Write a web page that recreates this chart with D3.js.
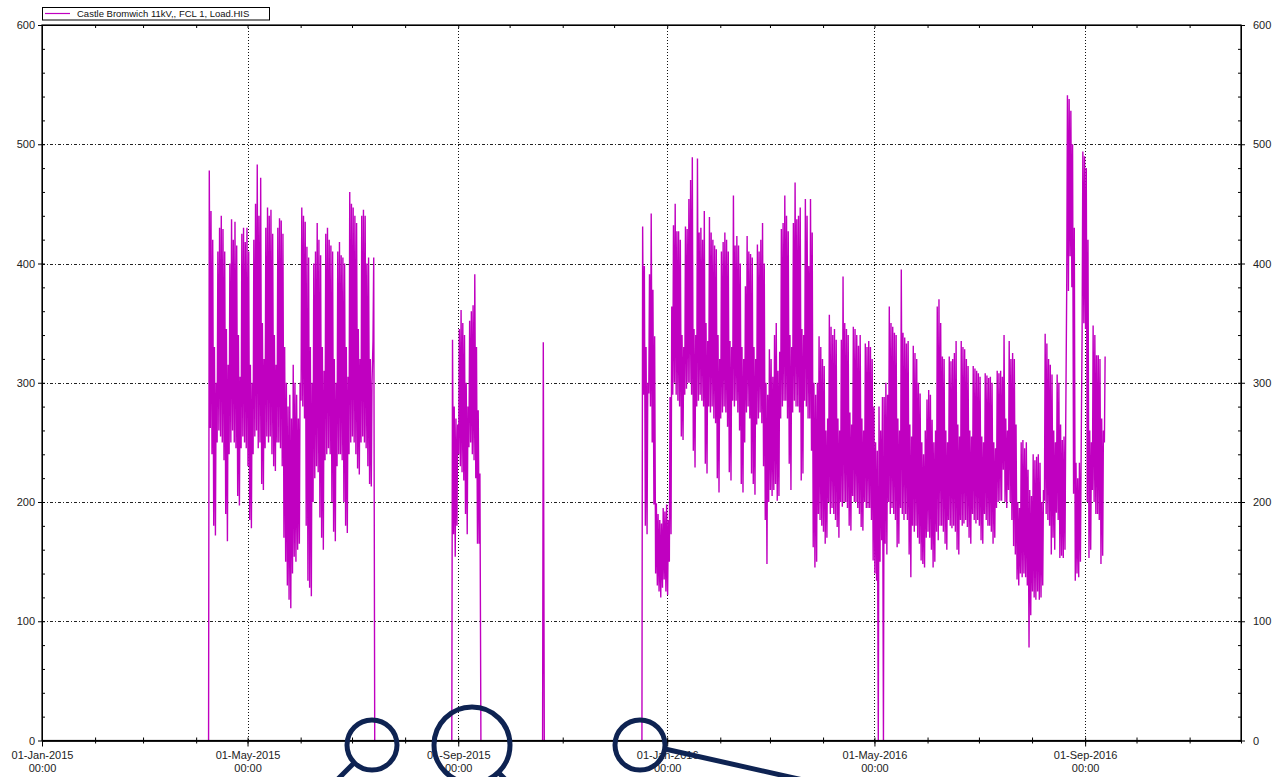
<!DOCTYPE html>
<html>
<head>
<meta charset="utf-8">
<script src="https://cdn.jsdelivr.net/npm/d3@7"></script>
<style>
  body { margin: 0; background: #fff; }
  svg { display: block; font-family: "Liberation Sans", Arial, sans-serif; }
</style>
</head>
<body>
<svg id="chart" width="1272" height="777"></svg>
<script>
// series label and time window
var seriesName = "Castle Bromwich 11kV,, FCL 1, Load.HIS";
var xDomain = ["2015-01-01", "2016-12-01"];
var yTicks = [0, 100, 200, 300, 400, 500, 600];

// start date of each recorded block (one lo/hi pair per day after it)
var segStarts = ["2015-04-08", "2015-08-28", "2015-10-20", "2015-12-17"];

// Apr - Jul 2015, daily low / high load
var seg1Hi = [478,444,420,330,300,410,430, 440,429,410,345,315,400,437, 420,435,415,340,305,425,430,
  418,430,410,315,300,420,450, 483,440,472,350,320,430,447, 440,445,425,340,315,430,438,
  436,425,330,300,280,290,270, 315,300,290,270,300,447,440, 435,414,405,330,300,400,410,
  434,420,407,330,310,425,430, 420,415,410,320,300,410,418, 407,405,400,330,305,460,450,
  447,440,434,345,320,440,445, 440,400,405,320,300,405,0];
var seg1Lo = [0,262,240,180,172,250,260, 255,250,235,190,167,240,250, 260,250,245,205,197,245,255,
  250,245,230,185,178,240,255, 260,245,250,215,210,245,255, 250,255,240,230,226,250,250,
  245,230,170,150,130,118,111, 140,154,150,160,165,285,280, 270,180,134,128,121,200,220,
  230,225,187,170,160,235,240, 245,240,200,175,167,230,240, 240,235,200,180,174,240,250,
  255,250,240,228,223,250,255, 250,245,230,215,213,335,0];

// late Aug - mid Sep 2015
var seg2Hi = [336,280,270,265,345,361,350,340,300,280,352,360,365,391,330,277,224,0];
var seg2Lo = [0,173,154,180,240,230,225,218,190,173,246,250,240,235,220,165,165,0];

// single reading, Oct 2015
var seg3Hi = [334, 0];
var seg3Lo = [0, 0];

// Dec 2015 - Sep 2016
var seg4Hi = [431,398,330,300,391,442,378, 339,199,190,185,182,195,192, 198,185,288,364,432,450,427,
  427,420,340,330,431,429,454, 470,489,345,340,488,426,430, 420,444,350,335,439,426,420,
  415,412,340,320,410,418,426, 420,410,335,330,457,415,423, 415,400,330,320,381,423,410,
  408,405,330,320,416,410,420, 434,400,300,290,328,320,305, 340,350,310,326,429,434,457,
  440,427,340,330,434,468,437, 440,447,345,340,454,440,398, 454,426,300,290,300,339,330,
  320,314,260,270,357,347,340, 345,336,270,260,336,389,350, 345,340,275,265,347,345,340,
  331,340,270,260,333,330,335, 330,320,280,250,243,280,260, 288,288,300,290,364,350,347,
  342,340,270,260,395,342,338, 333,335,265,255,331,325,320, 300,291,250,240,260,286,294,
  290,269,250,260,364,370,350, 322,320,260,250,322,318,320, 325,335,265,255,335,330,328,
  320,314,260,255,314,312,310, 308,305,255,250,308,306,304, 305,300,250,245,310,308,310,
  305,340,270,260,335,320,325, 320,265,200,195,250,252,245, 250,227,210,205,240,235,238,
  240,233,200,210,341,333,320, 315,307,260,250,307,300,265, 252,255,265,541,538,528,500,
  430,233,220,233,240,494,490, 480,420,260,250,348,340,323, 323,320,270,260,322];
var seg4Lo = [0,290,180,173,291,280,250, 198,140,130,125,120,128,135, 125,122,150,173,290,300,290,
  285,280,255,252,290,295,300, 300,290,243,229,280,285,290, 285,280,232,224,280,275,280,
  270,266,220,208,270,275,280, 275,263,225,218,285,280,285, 275,260,215,208,250,275,280,
  270,224,215,206,265,270,275, 266,230,185,148,200,210,205, 210,215,201,205,270,280,285,
  285,270,232,210,275,285,280, 280,275,218,224,285,280,270, 270,243,162,145,150,190,185,
  180,175,165,170,200,190,195, 190,185,179,170,200,196,200, 200,195,180,176,205,200,200,
  195,190,179,176,200,195,195, 195,185,151,140,134,0,150, 168,0,165,156,200,190,195,
  190,185,162,165,195,190,185, 190,185,156,137,180,175,180, 170,165,151,148,145,170,175,
  170,160,145,150,175,168,180, 180,175,165,160,185,180,178, 180,175,160,156,185,180,182,
  185,179,170,165,190,185,182, 185,180,168,165,190,185,180, 180,175,165,170,195,200,201,
  201,227,200,195,210,200,185, 163,156,135,130,140,137,140, 137,130,78,105,125,120,118,
  125,118,120,130,201,190,185, 180,156,170,160,191,185,153, 155,153,160,380,377,406,380,
  207,134,140,137,150,345,350, 345,200,153,160,210,200,190, 190,185,148,155,250];

var segHi = [seg1Hi, seg2Hi, seg3Hi, seg4Hi];
var segLo = [seg1Lo, seg2Lo, seg3Lo, seg4Lo];

function drawChart() {
  var margin = { top: 25, right: 31, bottom: 36.5, left: 42 };
  var W = 1272, H = 777;
  var x0 = margin.left, x1 = W - margin.right;
  var y0 = H - margin.bottom, y1 = margin.top;
  var parse = d3.utcParse("%Y-%m-%d");

  var svg = d3.select("#chart");
  svg.append("rect").attr("width", W).attr("height", H).attr("fill", "#fff");

  var x = d3.scaleUtc().domain(xDomain.map(parse)).range([x0, x1]);
  var y = d3.scaleLinear().domain([0, 600]).range([y0, y1]);

  var months = d3.utcMonth.range(x.domain()[0], d3.utcDay.offset(x.domain()[1], 1));
  var majors = months.filter(function (d) { return d.getUTCMonth() % 4 === 0; });
  var minorY = d3.range(0, 601, 20);

  // grid
  var grid = svg.append("g");
  grid.selectAll(".vg").data(majors.slice(1)).enter().append("line")
    .attr("x1", function (d) { return Math.round(x(d)) + 0.5; })
    .attr("x2", function (d) { return Math.round(x(d)) + 0.5; })
    .attr("y1", y1).attr("y2", y0)
    .attr("stroke", "#111").attr("stroke-dasharray", "1,2");
  grid.selectAll(".hg").data(yTicks.slice(1, -1)).enter().append("line")
    .attr("x1", x0).attr("x2", x1)
    .attr("y1", function (d) { return Math.round(y(d)) + 0.5; })
    .attr("y2", function (d) { return Math.round(y(d)) + 0.5; })
    .attr("stroke", "#222").attr("stroke-dasharray", "3,2,1,2");

  // load trace
  var line = d3.line()
    .x(function (d) { return x(d[0]); })
    .y(function (d) { return y(d[1]); });

  var plot = svg.append("g");
  segStarts.forEach(function (s, k) {
    var t0 = parse(s);
    var pts = [];
    segHi[k].forEach(function (h, i) {
      pts.push([d3.utcHour.offset(t0, i * 24 + 6), segLo[k][i]]);
      pts.push([d3.utcHour.offset(t0, i * 24 + 16), h]);
    });
    plot.append("path").datum(pts)
      .attr("d", line)
      .attr("fill", "none")
      .attr("stroke", "#c000c0")
      .attr("stroke-width", 1.4);
  });

  // axes
  var font = '"Liberation Sans", Arial, sans-serif';
  function style(g) {
    g.attr("font-family", font).attr("font-size", 11);
    g.selectAll("text").attr("fill", "#222");
    g.selectAll("line, path").attr("stroke", "#000");
  }

  svg.append("g").attr("transform", "translate(0," + y0 + ")")
    .call(d3.axisBottom(x).tickValues(months).tickSize(3).tickSizeOuter(0).tickFormat(""))
    .call(style);
  svg.append("g").attr("transform", "translate(0," + y0 + ")")
    .call(d3.axisTop(x).tickValues(months).tickSize(3).tickSizeOuter(0).tickFormat(""))
    .call(style);
  var xb = svg.append("g").attr("transform", "translate(0," + y0 + ")")
    .call(d3.axisBottom(x).tickValues(majors).tickSize(6).tickSizeOuter(0).tickPadding(5)
      .tickFormat(function () { return ""; }))
    .call(style);
  xb.selectAll(".tick text").each(function (d) {
    var t = d3.select(this);
    t.append("tspan").attr("x", 0).attr("dy", "0.71em").text(d3.utcFormat("%d-%b-%Y")(d));
    t.append("tspan").attr("x", 0).attr("dy", "1.15em").text(d3.utcFormat("%H:%M")(d));
  });
  svg.append("g").attr("transform", "translate(0," + y1 + ")")
    .call(d3.axisBottom(x).tickValues(months).tickSize(3).tickSizeOuter(0).tickFormat(""))
    .call(style);

  svg.append("g").attr("transform", "translate(" + x0 + ",0)")
    .call(d3.axisLeft(y).tickValues(yTicks).tickSize(4).tickSizeOuter(0).tickPadding(3))
    .call(style);
  svg.append("g").attr("transform", "translate(" + x0 + ",0)")
    .call(d3.axisRight(y).tickValues(minorY).tickSize(3).tickSizeOuter(0).tickFormat(""))
    .call(style);
  svg.append("g").attr("transform", "translate(" + x1 + ",0)")
    .call(d3.axisRight(y).tickValues(yTicks).tickSize(4).tickSizeOuter(0).tickPadding(8))
    .call(style);
  svg.append("g").attr("transform", "translate(" + x1 + ",0)")
    .call(d3.axisLeft(y).tickValues(minorY).tickSize(3).tickSizeOuter(0).tickFormat(""))
    .call(style);

  // frame
  svg.append("rect")
    .attr("x", x0).attr("y", y1).attr("width", x1 - x0).attr("height", y0 - y1)
    .attr("fill", "none").attr("stroke", "#000").attr("stroke-width", 1.2);

  // legend
  var lg = svg.append("g");
  lg.append("rect").attr("x", 42.5).attr("y", 7.5).attr("width", 227).attr("height", 12.5)
    .attr("fill", "#fff").attr("stroke", "#000");
  lg.append("line").attr("x1", 45).attr("x2", 70).attr("y1", 13.5).attr("y2", 13.5)
    .attr("stroke", "#c000c0").attr("stroke-width", 1.2);
  lg.append("text").attr("x", 77).attr("y", 17).attr("font-family", font)
    .attr("font-size", 9.5).attr("fill", "#111").text(seriesName);

  // magnifier call-outs
  var navy = "#0e2352";
  var ann = svg.append("g").attr("fill", "none").attr("stroke", navy).attr("stroke-width", 5);
  ann.append("circle").attr("cx", 372).attr("cy", 745).attr("r", 25);
  ann.append("line").attr("x1", 354).attr("y1", 763).attr("x2", 335).attr("y2", 782);
  ann.append("circle").attr("cx", 472).attr("cy", 745).attr("r", 38);
  ann.append("line").attr("x1", 498).attr("y1", 772).attr("x2", 510).attr("y2", 784);
  ann.append("circle").attr("cx", 640).attr("cy", 745).attr("r", 25);
  ann.append("line").attr("x1", 665).attr("y1", 749).attr("x2", 812).attr("y2", 782);
}

drawChart();
</script>
</body>
</html>
